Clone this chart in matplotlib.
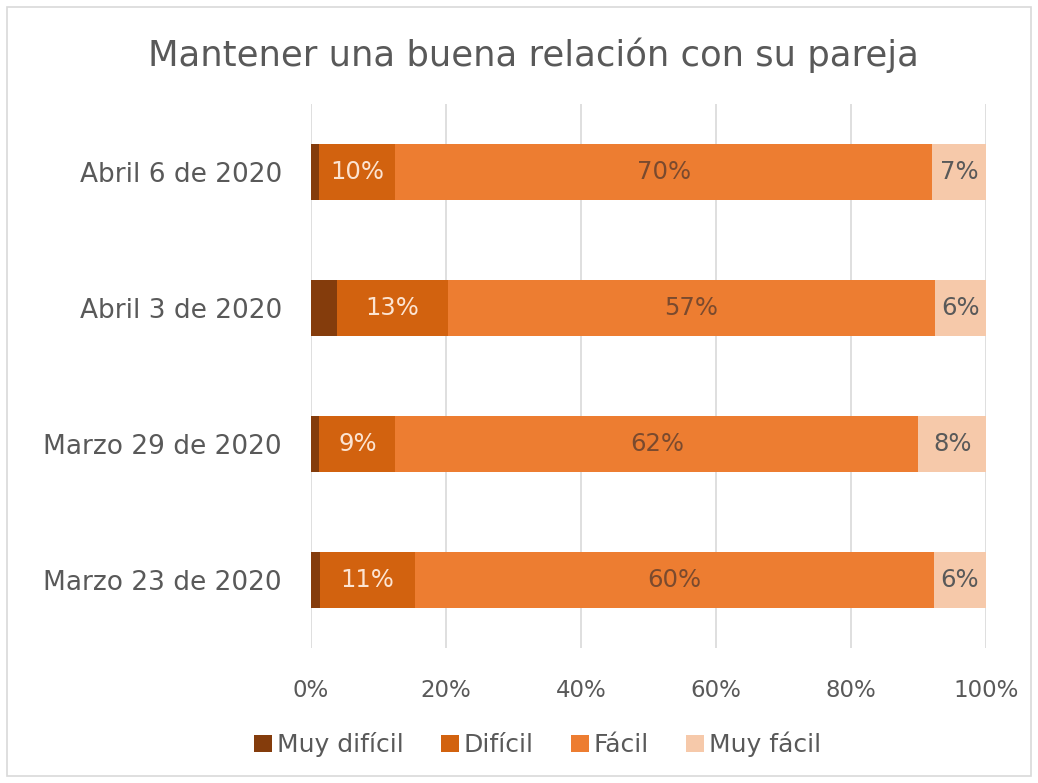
import matplotlib.pyplot as plt
import numpy as np
from matplotlib.patches import Rectangle

# datos
fechas = ["Marzo 23 de 2020", "Marzo 29 de 2020", "Abril 3 de 2020", "Abril 6 de 2020"]
muy_dificil = [1, 1, 3, 1]
dificil = [11, 9, 13, 10]
facil = [60, 62, 57, 70]
muy_facil = [6, 8, 6, 7]
series = ["Muy difícil", "Difícil", "Fácil", "Muy fácil"]
ticks_x = ["0%", "20%", "40%", "60%", "80%", "100%"]

colores = ["#843C0C", "#D2620F", "#ED7D31", "#F6C9AA"]
col_texto = [None, "#FCE4D2", "#7A4A2E", "#595959"]

plt.rcParams['font.family'] = ['DejaVu Sans']

fig = plt.figure(figsize=(10.38, 7.83), dpi=100)
ax = fig.add_axes([0.2996, 0.172, 0.6503, 0.695])

datos = np.array([muy_dificil, dificil, facil, muy_facil], dtype=float)
totales = datos.sum(axis=0)
pct = datos / totales * 100

y = np.arange(len(fechas))
izq = np.zeros(len(fechas))
for i, nombre in enumerate(series):
    ax.barh(y, pct[i], left=izq, height=0.41, color=colores[i], label=nombre, zorder=3)
    if i > 0:
        for j in range(len(fechas)):
            ax.text(izq[j] + pct[i][j] / 2, y[j], "%d%%" % datos[i][j],
                    ha="center", va="center", fontsize=17.5, color=col_texto[i], zorder=4)
    izq += pct[i]

ax.set_xlim(0, 100)
ax.set_ylim(-0.5, len(fechas) - 0.5)
ax.set_xticks(np.arange(0, 101, 20))
ax.set_xticklabels(ticks_x, fontsize=16.5, color="#595959")
ax.set_yticks(y)
ax.set_yticklabels(fechas, fontsize=19, color="#595959")
ax.tick_params(length=0, pad=21, axis="y")
ax.tick_params(length=0, pad=22, axis="x")
ax.grid(axis="x", color="#D9D9D9", linewidth=1.2, zorder=0)
for s in ax.spines.values():
    s.set_visible(False)

fig.text(0.514, 0.93, "Mantener una buena relación con su pareja", ha="center", va="center",
         fontsize=25.5, color="#595959")

fig.legend(loc="center", bbox_to_anchor=(0.518, 0.049), ncol=4, frameon=False,
           fontsize=18, handlelength=0.7, handleheight=0.7, handletextpad=0.2,
           columnspacing=1.5, labelcolor="#595959")

fig.patches.append(Rectangle((0.007, 0.009), 0.986, 0.982, transform=fig.transFigure,
                             fill=False, edgecolor="#D9D9D9", linewidth=1.2))

fig.savefig("out.png", dpi=100)
